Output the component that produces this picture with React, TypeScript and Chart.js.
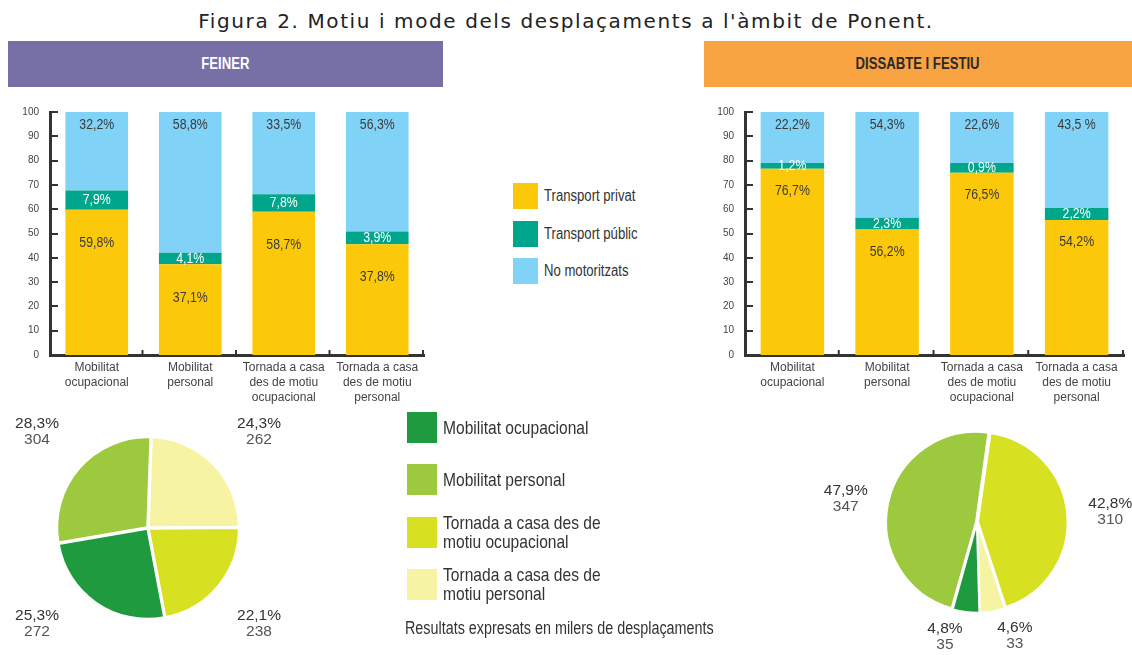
import React, { useEffect, useRef } from "react";
import { Chart, registerables } from "chart.js";

Chart.register(...registerables);

const SANS = "'Liberation Sans', Arial, sans-serif";
const SQUEEZE = 0.82;

const titleText = "Figura 2. Motiu i mode dels desplaçaments a l'àmbit de Ponent.";
const panelTitles = ["FEINER", "DISSABTE I FESTIU"];

const barCategories = [
  ["Mobilitat", "ocupacional"],
  ["Mobilitat", "personal"],
  ["Tornada a casa", "des de motiu", "ocupacional"],
  ["Tornada a casa", "des de motiu", "personal"],
];
const modeNames = ["Transport privat", "Transport públic", "No motoritzats"];
const modeColors = ["#fcc80a", "#00a68b", "#80d2f6"];

// FEINER (bar heights as drawn, labels as printed)
const feinerPrivat = [59.8, 37.3, 59.0, 45.6];
const feinerPublic = [7.9, 4.8, 7.2, 5.2];
const feinerNoMot = [32.3, 57.9, 33.8, 49.2];
const feinerPrivatLabels = ["59,8%", "37,1%", "58,7%", "37,8%"];
const feinerPublicLabels = ["7,9%", "4,1%", "7,8%", "3,9%"];
const feinerNoMotLabels = ["32,2%", "58,8%", "33,5%", "56,3%"];

// DISSABTE I FESTIU
const festiuPrivat = [76.6, 51.6, 75.0, 55.6];
const festiuPublic = [2.4, 4.9, 4.0, 4.9];
const festiuNoMot = [21.0, 43.5, 21.0, 39.5];
const festiuPrivatLabels = ["76,7%", "56,2%", "76,5%", "54,2%"];
const festiuPublicLabels = ["1,2%", "2,3%", "0,9%", "2,2%"];
const festiuNoMotLabels = ["22,2%", "54,3%", "22,6%", "43,5 %"];

// Pies (motiu)
const motiuNames = [
  "Mobilitat ocupacional",
  "Mobilitat personal",
  "Tornada a casa des de motiu ocupacional",
  "Tornada a casa des de motiu personal",
];
const motiuLegendLines = [
  ["Mobilitat ocupacional"],
  ["Mobilitat personal"],
  ["Tornada a casa des de", "motiu ocupacional"],
  ["Tornada a casa des de", "motiu personal"],
];
const motiuColors = ["#1f9a3e", "#9cc93d", "#d7e021", "#f6f4a2"];
const feinerMotiuValues = [272, 304, 238, 262];
const feinerMotiuPct = ["25,3%", "28,3%", "22,1%", "24,3%"];
const festiuMotiuValues = [35, 347, 310, 33];
const festiuMotiuPct = ["4,8%", "47,9%", "42,8%", "4,6%"];
const feinerPieOrder = [3, 2, 0, 1];
const festiuPieOrder = [2, 3, 0, 1];
const footnote = "Resultats expresats en milers de desplaçaments";

function squeezedText(ctx: any, text: string, x: number, y: number) {
  ctx.save();
  ctx.translate(x, y);
  ctx.scale(SQUEEZE, 1);
  ctx.fillText(text, 0, 0);
  ctx.restore();
}

const axisMarks = {
  id: "axisMarks",
  afterDraw(chart: any) {
    const { ctx } = chart;
    const x = chart.scales.x;
    const y = chart.scales.y;
    ctx.save();
    ctx.strokeStyle = "#333";
    ctx.lineWidth = 2;
    y.ticks.forEach((t: any) => {
      if (t.value === 0) return;
      const py = Math.round(y.getPixelForValue(t.value));
      ctx.beginPath();
      ctx.moveTo(x.left, py);
      ctx.lineTo(x.left + 8, py);
      ctx.stroke();
    });
    const n = x.ticks.length;
    const w = (x.right - x.left) / n;
    for (let i = 0; i < n; i++) {
      const px = x.getPixelForValue(i) + w / 2 - 1;
      ctx.beginPath();
      ctx.moveTo(px, y.bottom);
      ctx.lineTo(px, y.bottom - 5);
      ctx.stroke();
    }
    ctx.restore();
  },
};

const barLabels = {
  id: "barLabels",
  afterDatasetsDraw(chart: any, _args: any, opts: any) {
    const { ctx } = chart;
    ctx.save();
    ctx.font = `15px ${SANS}`;
    ctx.textAlign = "center";
    ctx.textBaseline = "middle";
    chart.data.datasets.forEach((_ds: any, di: number) => {
      const meta = chart.getDatasetMeta(di);
      meta.data.forEach((bar: any, i: number) => {
        const text = opts.labels[di][i];
        let y: number;
        if (di === 0) {
          y = bar.y + opts.yellowOffset;
          ctx.fillStyle = "#3b3b3b";
        } else if (di === 1) {
          y = (bar.y + bar.base) / 2;
          ctx.fillStyle = "#ffffff";
        } else {
          y = bar.y + 13;
          ctx.fillStyle = "#3b3b3b";
        }
        squeezedText(ctx, text, bar.x, y);
      });
    });
    ctx.restore();
  },
};

const pieLabels = {
  id: "pieLabels",
  afterDatasetsDraw(chart: any, _args: any, opts: any) {
    const { ctx } = chart;
    const meta = chart.getDatasetMeta(0);
    ctx.save();
    ctx.font = `15.5px ${SANS}`;
    ctx.textAlign = "center";
    ctx.textBaseline = "middle";
    meta.data.forEach((arc: any, i: number) => {
      const p = arc.getProps(["x", "y", "startAngle", "endAngle", "outerRadius"], true);
      const mid = (p.startAngle + p.endAngle) / 2;
      const d = p.outerRadius * opts.dist;
      const c = Math.cos(mid);
      const s = Math.sin(mid);
      const px = p.x + c * d + Math.sign(c) * opts.hx;
      const py = p.y + s * d + Math.sign(s) * opts.hy;
      ctx.fillStyle = "#333";
      ctx.fillText(opts.pct[i], px, py - 8);
      ctx.fillStyle = "#555";
      ctx.fillText(String(opts.vals[i]), px, py + 8);
    });
    ctx.restore();
  },
};

function BarPanel(props: any) {
  const ref = useRef<HTMLCanvasElement>(null);
  const { left, top, width, height, privat, pub, nomot, labels, yellowOffset, rightPad } = props;
  useEffect(() => {
    const chart = new Chart(ref.current as HTMLCanvasElement, {
      type: "bar",
      data: {
        labels: barCategories as any,
        datasets: [
          { label: modeNames[0], data: privat, backgroundColor: modeColors[0], barPercentage: 0.67, categoryPercentage: 1 },
          { label: modeNames[1], data: pub, backgroundColor: modeColors[1], barPercentage: 0.67, categoryPercentage: 1 },
          { label: modeNames[2], data: nomot, backgroundColor: modeColors[2], barPercentage: 0.67, categoryPercentage: 1 },
        ],
      },
      options: {
        animation: false,
        responsive: false,
        maintainAspectRatio: false,
        layout: { padding: { top: 12, right: rightPad, left: 0, bottom: 0 } },
        plugins: {
          legend: { display: false },
          tooltip: { enabled: false },
          barLabels: { labels, yellowOffset },
        } as any,
        scales: {
          x: {
            stacked: true,
            grid: { display: false, drawTicks: false },
            border: { display: true, width: 3, color: "#333" },
            ticks: {
              color: "#444",
              font: { family: SANS, size: 12, lineHeight: 1.25 },
              padding: 5,
              maxRotation: 0,
              autoSkip: false,
            },
            afterFit: (s: any) => {
              s.height = 60;
            },
          } as any,
          y: {
            stacked: true,
            min: 0,
            max: 100,
            grid: { display: false, drawTicks: false },
            border: { display: true, width: 3, color: "#333" },
            ticks: {
              stepSize: 10,
              color: "#444",
              font: { family: SANS, size: 10 },
              padding: 11,
            },
            afterFit: (s: any) => {
              s.width = 50;
            },
          } as any,
        },
      },
      plugins: [axisMarks, barLabels],
    });
    return () => chart.destroy();
  }, []);
  return <canvas ref={ref} width={width} height={height} style={{ position: "absolute", left, top }} />;
}

function PiePanel(props: any) {
  const ref = useRef<HTMLCanvasElement>(null);
  const { left, top, width, height, padLeft, values, pcts, order, rotation, dist, hx, hy, radius } = props;
  useEffect(() => {
    const chart = new Chart(ref.current as HTMLCanvasElement, {
      type: "pie",
      data: {
        labels: order.map((i: number) => motiuNames[i]),
        datasets: [
          {
            data: order.map((i: number) => values[i]),
            backgroundColor: order.map((i: number) => motiuColors[i]),
            borderColor: "#ffffff",
            borderWidth: 2,
            offset: 4,
            radius,
            rotation,
          } as any,
        ],
      },
      options: {
        animation: false,
        responsive: false,
        maintainAspectRatio: false,
        layout: { padding: { left: padLeft, right: 0, top: 0, bottom: 0 } },
        plugins: {
          legend: { display: false },
          tooltip: { enabled: false },
          pieLabels: {
            pct: order.map((i: number) => pcts[i]),
            vals: order.map((i: number) => values[i]),
            dist,
            hx,
            hy,
          },
        } as any,
      },
      plugins: [pieLabels],
    });
    return () => chart.destroy();
  }, []);
  return <canvas ref={ref} width={width} height={height} style={{ position: "absolute", left, top }} />;
}

const abs = (o: any) => ({ position: "absolute" as const, ...o });

function Squeezed({ children, origin = "left center" }: any) {
  return (
    <span style={{ display: "inline-block", transform: `scaleX(${SQUEEZE})`, transformOrigin: origin, whiteSpace: "nowrap" }}>
      {children}
    </span>
  );
}

export default function App() {
  return (
    <div style={{ position: "absolute", left: 0, top: 0, width: 1132, height: 655, background: "#fff", overflow: "hidden" }}>
      <div
        style={abs({
          left: 0,
          top: 8,
          width: 1132,
          height: 26,
          lineHeight: "26px",
          textAlign: "center",
          fontFamily: "'DejaVu Sans', sans-serif",
          fontSize: 20,
          letterSpacing: 1.6,
          color: "#222",
        })}
      >
        {titleText}
      </div>
      <div
        style={abs({
          left: 8,
          top: 41,
          width: 435,
          height: 46,
          background: "#7670a6",
          color: "#fff",
          fontFamily: SANS,
          fontWeight: "bold",
          fontSize: 16,
          lineHeight: "46px",
          textAlign: "center",
        })}
      >
        <Squeezed origin="center center">{panelTitles[0]}</Squeezed>
      </div>
      <div
        style={abs({
          left: 704,
          top: 41,
          width: 428,
          height: 46,
          background: "#f8a342",
          color: "#2a2a2a",
          fontFamily: SANS,
          fontWeight: "bold",
          fontSize: 16,
          lineHeight: "46px",
          textAlign: "center",
        })}
      >
        <Squeezed origin="center center">{panelTitles[1]}</Squeezed>
      </div>

      <BarPanel
        left={0}
        top={95}
        width={440}
        height={320}
        privat={feinerPrivat}
        pub={feinerPublic}
        nomot={feinerNoMot}
        labels={[feinerPrivatLabels, feinerPublicLabels, feinerNoMotLabels]}
        yellowOffset={33}
        rightPad={16}
      />
      <BarPanel
        left={695}
        top={95}
        width={437}
        height={320}
        privat={festiuPrivat}
        pub={festiuPublic}
        nomot={festiuNoMot}
        labels={[festiuPrivatLabels, festiuPublicLabels, festiuNoMotLabels]}
        yellowOffset={22}
        rightPad={8}
      />

      {modeNames.map((name, i) => (
        <div key={name}>
          <div style={abs({ left: 513, top: 183 + i * 37.5, width: 25, height: 26, background: modeColors[i] })} />
          <div
            style={abs({
              left: 544,
              top: 183 + i * 37.5,
              height: 26,
              lineHeight: "26px",
              fontFamily: SANS,
              fontSize: 16,
              color: "#333",
              whiteSpace: "nowrap",
            })}
          >
            <Squeezed>{name}</Squeezed>
          </div>
        </div>
      ))}

      <PiePanel
        left={0}
        top={405}
        width={296}
        height={246}
        padLeft={0}
        values={feinerMotiuValues}
        pcts={feinerMotiuPct}
        order={feinerPieOrder}
        rotation={2}
        dist={0}
        hx={111}
        hy={96}
        radius={90}
      />
      <PiePanel
        left={780}
        top={390}
        width={352}
        height={264}
        padLeft={42}
        values={festiuMotiuValues}
        pcts={festiuMotiuPct}
        order={festiuPieOrder}
        rotation={8}
        dist={1.3}
        hx={18}
        hy={0}
        radius={89}
      />

      {motiuLegendLines.map((lines, i) => (
        <div key={i}>
          <div style={abs({ left: 407, top: 412 + i * 52.3, width: 30, height: 31, background: motiuColors[i] })} />
          <div
            style={abs({
              left: 443,
              top: 412 + i * 52.3,
              height: 31,
              display: "flex",
              flexDirection: "column",
              justifyContent: "center",
              fontFamily: SANS,
              fontSize: 19,
              lineHeight: "19px",
              color: "#333",
              whiteSpace: "nowrap",
            })}
          >
            {lines.map((l) => (
              <div key={l}>
                <Squeezed>{l}</Squeezed>
              </div>
            ))}
          </div>
        </div>
      ))}
      <div
        style={abs({
          left: 405,
          top: 617,
          height: 22,
          lineHeight: "22px",
          fontFamily: SANS,
          fontSize: 17.5,
          color: "#333",
          whiteSpace: "nowrap",
        })}
      >
        <Squeezed>{footnote}</Squeezed>
      </div>
    </div>
  );
}
